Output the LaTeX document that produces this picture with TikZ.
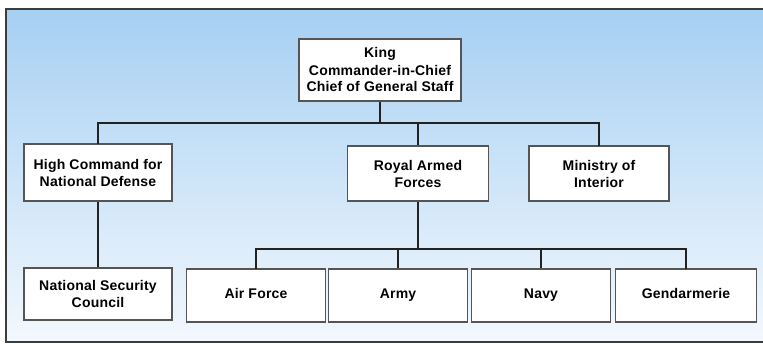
\documentclass[tikz,border=0pt]{standalone}
\usepackage{fontspec}
\setmainfont{Liberation Sans}
\definecolor{bgtop}{HTML}{A6CFF2}
\definecolor{bgmid}{HTML}{CDE4F8}
\definecolor{bgbot}{HTML}{F3F8FD}
\definecolor{boxline}{HTML}{555555}
\definecolor{conn}{HTML}{222222}
\tikzset{
  orgbox/.style={draw=boxline, line width=1.6pt, fill=white, align=center,
    inner sep=2pt, font=\fontsize{14}{17}\selectfont\bfseries\addfontfeature{LetterSpace=1.5}},
  oneline/.style={text height=10pt, text depth=3pt},
  link/.style={draw=conn, line width=2pt}
}
\begin{document}
\begin{tikzpicture}[x=1pt,y=-1pt]
\useasboundingbox (0,0) rectangle (763,344);
\shade[top color=bgtop, bottom color=bgbot, middle color=bgmid] (6,9) rectangle (763,342);
\draw[draw=boxline!70!black, line width=2pt] (764,9) -- (6,9) -- (6,342) -- (764,342);
% top level
\node[orgbox, minimum width=162pt, minimum height=62pt] (king) at (380,70) {King\\Commander-in-Chief\\Chief of General Staff};
% second level
\node[orgbox, minimum width=148pt, minimum height=57pt] (hc) at (98,172.5) {High Command for\\National Defense};
\node[orgbox, minimum width=141pt, minimum height=55pt] (raf) at (418,173.5) {Royal Armed\\Forces};
\node[orgbox, minimum width=140pt, minimum height=55pt] (moi) at (599,173.5) {Ministry of\\Interior};
% third level
\node[orgbox, minimum width=148pt, minimum height=52pt] (nsc) at (98,294) {National Security\\Council};
\node[orgbox, oneline, minimum width=139pt, minimum height=53pt] (af) at (256,295.5) {Air Force};
\node[orgbox, oneline, minimum width=139pt, minimum height=53pt] (army) at (398,295.5) {Army};
\node[orgbox, oneline, minimum width=139pt, minimum height=53pt] (navy) at (541,295.5) {Navy};
\node[orgbox, oneline, minimum width=141pt, minimum height=53pt] (gend) at (686,295.5) {Gendarmerie};
% buses
\coordinate (busA) at (0,123);
\coordinate (busB) at (0,249);
\path[link] (king.south) -- (king.south |- busA);
\path[link, line cap=rect] (hc.north) -- (hc.north |- busA) -- (moi.north |- busA) -- (moi.north);
\path[link] (raf.north |- busA) -- (raf.north);
\path[link] (hc.south) -- (nsc.north);
\path[link] (raf.south) -- (raf.south |- busB);
\path[link, line cap=rect] (af.north) -- (af.north |- busB) -- (gend.north |- busB) -- (gend.north);
\path[link] (army.north |- busB) -- (army.north);
\path[link] (navy.north |- busB) -- (navy.north);
\end{tikzpicture}
\end{document}
